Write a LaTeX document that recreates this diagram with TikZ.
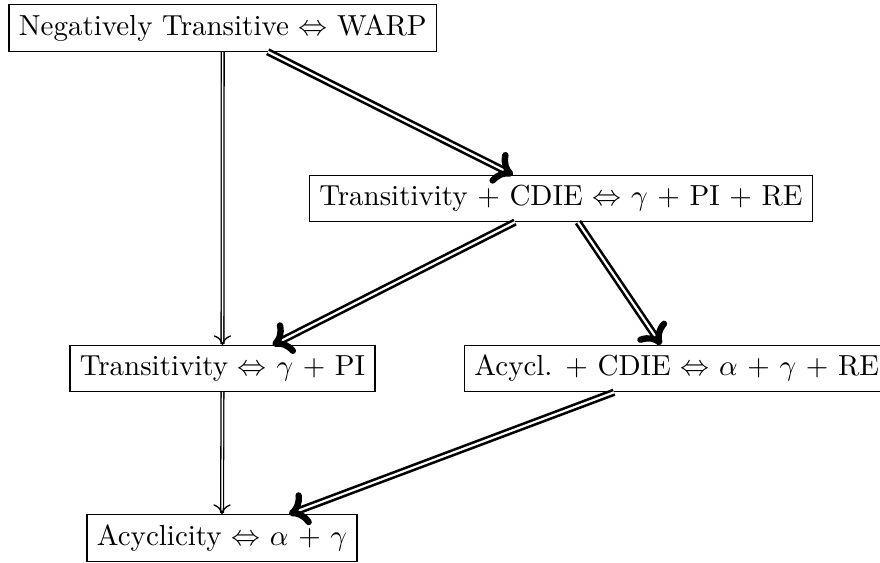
\documentclass[tikz,border=0pt]{standalone}
\usetikzlibrary{arrows.meta,calc}
\begin{document}
\begin{tikzpicture}[x=0.345pt,y=-0.345pt,
  box/.style={draw, line width=0.4pt, inner sep=3.4pt},
  thinarr/.style={double, line width=0.45pt, double distance=0.5pt, -{To[length=3.4pt,width=6pt]}},
  thickarr/.style={double, line width=0.9pt, double distance=0.75pt, -{To[length=6.5pt,width=12pt,line width=2.2pt,round]}}]
\useasboundingbox (0,0) rectangle (880,563);
\node[box] (A) at (222.75,28) {Negatively Transitive $\Leftrightarrow$ WARP};
\node[box] (B) at (561,198.5) {Transitivity + CDIE $\Leftrightarrow$ $\gamma$ + PI + RE};
\node[box] (C) at (222.5,368.5) {Transitivity $\Leftrightarrow$ $\gamma$ + PI};
\node[box, anchor=west] (D) at (464,368.5) {Acycl. + CDIE $\Leftrightarrow$ $\alpha$ + $\gamma$ + RE};
\node[box] (E) at (222,538) {Acyclicity $\Leftrightarrow$ $\alpha$ + $\gamma$};
\draw[thinarr] (A.south) -- (C.north);
\draw[thinarr] (C.south) -- (E.north);
\draw[thickarr] ($(A.south)+(45,0)$) -- ($(B.north)+(-48,0)$);
\draw[thickarr] ($(B.south)+(-46,0)$) -- ($(C.north)+(50,0)$);
\draw[thickarr] ($(B.south)+(17,0)$) -- ($(D.north west)+(197,0)$);
\draw[thickarr] ($(D.south west)+(150,0)$) -- ($(E.north)+(67,0)$);
\end{tikzpicture}
\end{document}
